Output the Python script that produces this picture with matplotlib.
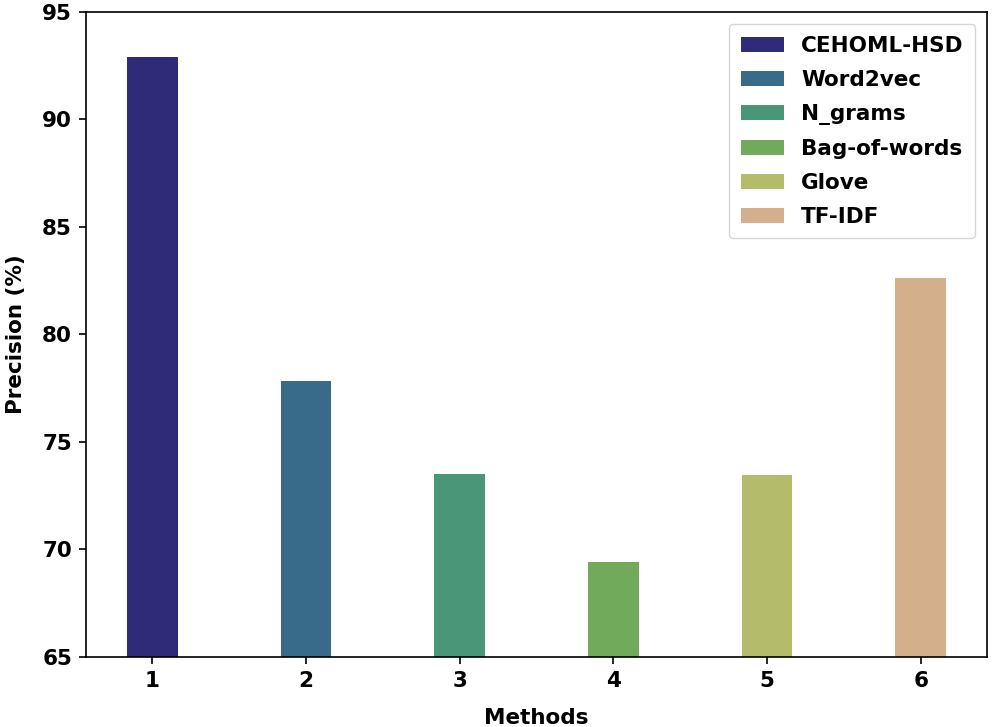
import matplotlib
matplotlib.use("Agg")
import matplotlib.pyplot as plt

methods = ["CEHOML-HSD", "Word2vec", "N_grams", "Bag-of-words", "Glove", "TF-IDF"]
positions = [1, 2, 3, 4, 5, 6]
precision = [92.9, 77.85, 73.5, 69.4, 73.45, 82.65]
colors = ["#2e2b78", "#386a89", "#4a9678", "#72aa5c", "#b4bb6b", "#d3b08b"]

plt.rcParams["font.family"] = "DejaVu Sans"
plt.rcParams["font.weight"] = "bold"

fig = plt.figure(figsize=(9.95, 7.27), dpi=100)
ax = fig.add_axes([0.0864, 0.0963, 0.9056, 0.8872])

for x, v, c, m in zip(positions, precision, colors, methods):
    ax.bar(x, v, width=0.33, color=c, label=m)

ax.set_ylim(65, 95)
ax.set_yticks([65, 70, 75, 80, 85, 90, 95])
ax.set_xticks(positions)
ax.tick_params(labelsize=15.5, length=5, width=1.2, pad=5)
for lab in ax.get_xticklabels() + ax.get_yticklabels():
    lab.set_fontweight("bold")
for s in ax.spines.values():
    s.set_linewidth(1.2)

ax.set_xlabel("Methods", fontsize=15.5, fontweight="bold", labelpad=12)
ax.set_ylabel("Precision (%)", fontsize=15.5, fontweight="bold", labelpad=12)

ax.legend(loc="upper right", prop={"weight": "bold", "size": 15.5},
          borderaxespad=0.55, labelspacing=0.65, borderpad=0.55)

fig.savefig("out.png", dpi=100)
